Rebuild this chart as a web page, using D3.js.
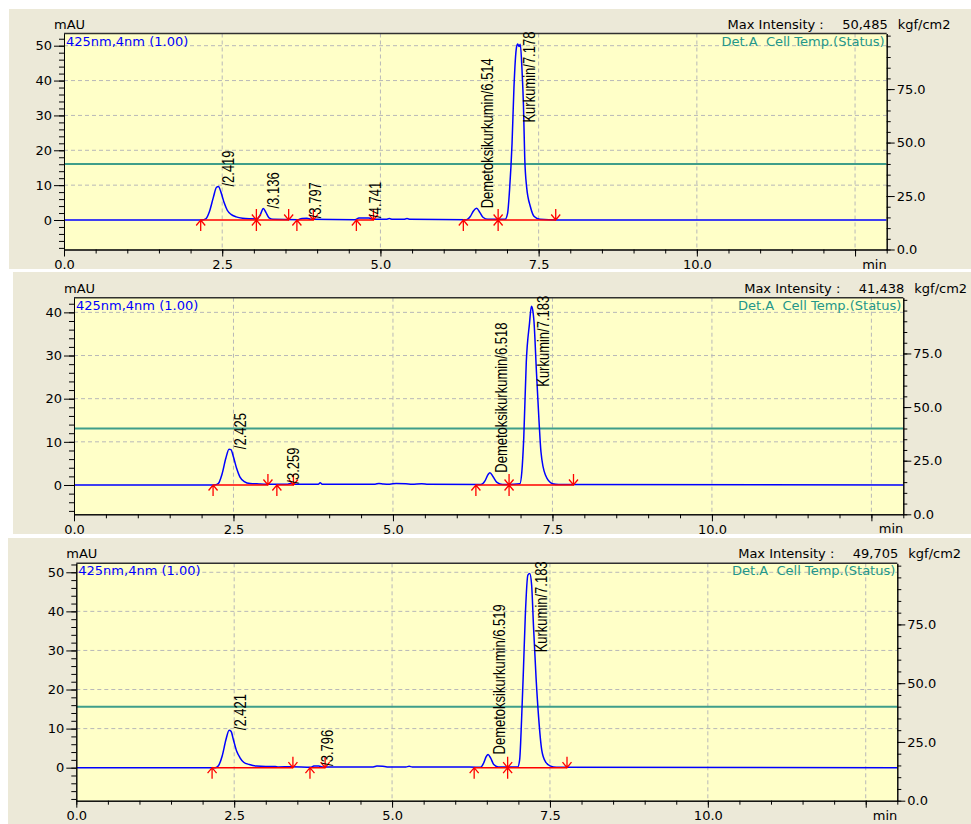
<!DOCTYPE html>
<html>
<head>
<meta charset="utf-8">
<script src="https://cdn.jsdelivr.net/npm/d3@7/dist/d3.min.js"></script>
<style>
  html, body { margin: 0; padding: 0; background: #ffffff; }
  svg { display: block; }
  .axis-text { font-family: "DejaVu Sans", sans-serif; font-size: 13px; fill: #000; }
  .peak-label { font-family: "Liberation Sans", Arial, sans-serif; font-size: 13px; fill: #000; }
</style>
</head>
<body>
<div class="js-chart"></div>
<script>
// The selector of the element into which we put the chromatograms:
const chartSelector = ".js-chart";

// Shared axes
const timeMajorTicks = [0, 2.5, 5, 7.5, 10, 12.5];
const timeTickLabels = ["0.0", "2.5", "5.0", "7.5", "10.0", ""];
const tempTicks = [0, 25, 50, 75];
const cellTemp = 40;
const channelLabel = "425nm,4nm (1.00)";
const tempLabel = "Det.A  Cell Temp.(Status)";

// Run 1: [time (min), absorbance (mAU)]
const run1Trace = [
  [0, 0], [2.18, 0], [2.24, 0.3], [2.30, 2.5], [2.36, 6.5], [2.41, 9.4], [2.44, 9.6],
  [2.48, 8.0], [2.53, 5.0], [2.58, 2.8], [2.64, 1.6], [2.72, 0.9], [2.82, 0.5],
  [2.95, 0.35], [3.05, 0.3], [3.10, 1.4], [3.15, 3.3], [3.19, 2.2], [3.24, 0.6],
  [3.30, 0.2], [3.70, 0.1], [3.76, 0.45], [3.84, 0.5], [3.90, 0.2], [4.60, 0.1],
  [4.66, 0.55], [4.82, 0.6], [4.88, 0.2], [5.09, 0.2], [5.14, 0.4], [5.19, 0.2],
  [5.37, 0.2], [5.42, 0.4], [5.47, 0.2], [6.36, 0.1], [6.42, 1.0], [6.47, 2.6],
  [6.52, 3.35], [6.57, 2.2], [6.62, 0.8], [6.70, 0.2], [6.97, 0.2], [7.01, 2],
  [7.04, 8.5], [7.08, 22], [7.11, 38], [7.15, 49.5], [7.17, 50.5], [7.19, 49.8],
  [7.21, 50.4], [7.24, 42], [7.26, 33], [7.28, 18], [7.31, 9.5], [7.37, 3.8],
  [7.43, 1.0], [7.52, 0.2], [7.80, 0], [13, 0]
];
const run1PeakTimes = [2.419, 3.136, 3.797, 4.741, 6.514, 7.178];
const run1PeakNames = ["", "", "", "", "Demetoksikurkumin", "Kurkumin"];
const run1PeakHeights = [9.6, 3.3, 0.5, 0.6, 3.35, 50.5];
const run1Integration = [[2.16, 3.04], [3.04, 3.55], [3.68, 3.94], [4.62, 4.89], [6.31, 6.86], [6.86, 7.77]];
const run1MaxIntensity = "50,485";
const run1AbsTicks = [0, 10, 20, 30, 40, 50];

// Run 2
const run2Trace = [
  [0, 0], [2.20, 0], [2.26, 0.3], [2.32, 2.5], [2.38, 6.2], [2.43, 8.3], [2.46, 8.2],
  [2.50, 6.5], [2.55, 3.8], [2.60, 1.9], [2.67, 0.8], [2.76, 0.35], [2.90, 0.25],
  [3.02, 0.2], [3.35, 0.2], [3.40, 0.35], [3.45, 0.2], [3.83, 0.2], [3.86, 0.5],
  [3.89, 0.2], [4.72, 0.2], [4.78, 0.35], [4.85, 0.25], [4.95, 0.2], [5.05, 0.35],
  [5.20, 0.3], [5.30, 0.2], [5.45, 0.3], [5.55, 0.2], [6.38, 0.1], [6.44, 0.9],
  [6.49, 2.4], [6.52, 2.85], [6.57, 1.9], [6.63, 0.6], [6.72, 0.1], [6.99, 0.3],
  [7.02, 3], [7.05, 10.8], [7.09, 28.5], [7.14, 37.4], [7.17, 41.4], [7.19, 40.6],
  [7.21, 38], [7.25, 26], [7.29, 14.7], [7.32, 7.7], [7.39, 2.3], [7.50, 0.3],
  [7.60, 0.1], [13, 0]
];
const run2PeakTimes = [2.425, 3.259, 6.518, 7.183];
const run2PeakNames = ["", "", "Demetoksikurkumin", "Kurkumin"];
const run2PeakHeights = [8.3, 0.3, 2.85, 41.4];
const run2Integration = [[2.18, 3.04], [3.18, 3.44], [6.30, 6.82], [6.82, 7.83]];
const run2MaxIntensity = "41,438";
const run2AbsTicks = [0, 10, 20, 30, 40];

// Run 3
const run3Trace = [
  [0, 0], [2.20, 0], [2.25, 0.5], [2.31, 3], [2.37, 7.2], [2.42, 9.6], [2.45, 9.3],
  [2.49, 7.0], [2.54, 4.2], [2.59, 2.6], [2.65, 1.4], [2.74, 0.8], [2.85, 0.4],
  [3.00, 0.3], [3.15, 0.3], [3.20, 0.2], [3.40, 0.25], [3.72, 0.1], [3.76, 0.4],
  [3.84, 0.45], [3.90, 0.15], [4.70, 0.2], [4.76, 0.4], [4.85, 0.35], [4.92, 0.2],
  [5.22, 0.2], [5.27, 0.35], [5.32, 0.2], [6.05, 0.2], [6.40, 0.1], [6.45, 1.2],
  [6.49, 2.8], [6.52, 3.4], [6.56, 2.5], [6.61, 0.8], [6.68, 0.2], [6.99, 0.2],
  [7.02, 2], [7.05, 12], [7.08, 25], [7.11, 39], [7.15, 49.3], [7.18, 49.7],
  [7.21, 46.7], [7.24, 36], [7.28, 23], [7.32, 13], [7.37, 4.5], [7.43, 1.5],
  [7.51, 0.4], [7.60, 0.1], [13, 0]
];
const run3PeakTimes = [2.421, 3.796, 6.519, 7.183];
const run3PeakNames = ["", "", "Demetoksikurkumin", "Kurkumin"];
const run3PeakHeights = [9.6, 0.45, 3.4, 49.7];
const run3Integration = [[2.15, 3.43], [3.70, 3.94], [6.30, 6.83], [6.83, 7.77]];
const run3MaxIntensity = "49,705";
const run3AbsTicks = [0, 10, 20, 30, 40, 50];

const chromatograms = (function () {
  "use strict";

  var publicAPIs = {};
  var svg = null;

  // Where each of the three panels sits on the page.
  var layout = [
    { box: [9, 9, 962, 260], left: 64, top: 33.5, right: 886.7, bottom: 249.5, absDomain: [-8.46, 53.5] },
    { box: [13, 272, 958, 262], left: 74, top: 297.7, right: 903.3, bottom: 514.3, absDomain: [-6.79, 43.4] },
    { box: [8, 538, 963, 286], left: 76.3, top: 563.3, right: 897.3, bottom: 800.7, absDomain: [-8.45, 52.3] }
  ];

  /**
   * Build the svg and draw every run.
   * @param {object} options Should have selector and runs.
   */
  publicAPIs.init = function (options) {
    svg = d3.select(options.selector)
      .append("svg")
      .attr("width", 971)
      .attr("height", 824);

    options.runs.forEach(function (run, i) {
      drawPanel(run, layout[i], i);
    });
  };

  /**
   * Draw one chromatogram panel.
   */
  var drawPanel = function (run, lay, idx) {
    var g = svg.append("g");

    g.append("rect")
      .attr("x", lay.box[0]).attr("y", lay.box[1])
      .attr("width", lay.box[2]).attr("height", lay.box[3])
      .attr("fill", "#ece9d8");

    g.append("rect")
      .attr("x", lay.left).attr("y", lay.top)
      .attr("width", lay.right - lay.left).attr("height", lay.bottom - lay.top)
      .attr("fill", "#ffffc8");

    var x = d3.scaleLinear().domain([0, 13]).range([lay.left, lay.right]);
    var y = d3.scaleLinear().domain(lay.absDomain).range([lay.bottom, lay.top]);
    var yT = d3.scaleLinear().domain([0, 101]).range([lay.bottom, lay.top]);

    // Dashed grid
    var grid = g.append("g")
      .attr("stroke", "#b8b8b8")
      .attr("stroke-dasharray", "4,3")
      .attr("stroke-width", 1);
    grid.selectAll(".vgrid")
      .data(timeMajorTicks.slice(1))
      .enter().append("line")
      .attr("x1", function (d) { return x(d); })
      .attr("x2", function (d) { return x(d); })
      .attr("y1", lay.top).attr("y2", lay.bottom);
    grid.selectAll(".hgrid")
      .data(run.absTicks.slice(1))
      .enter().append("line")
      .attr("y1", function (d) { return y(d); })
      .attr("y2", function (d) { return y(d); })
      .attr("x1", lay.left).attr("x2", lay.right);

    var clipId = "clip" + idx;
    g.append("clipPath").attr("id", clipId)
      .append("rect")
      .attr("x", lay.left).attr("y", lay.top)
      .attr("width", lay.right - lay.left).attr("height", lay.bottom - lay.top);

    var plot = g.append("g").attr("clip-path", "url(#" + clipId + ")");

    // Cell temperature trace
    plot.append("line")
      .attr("x1", lay.left).attr("x2", lay.right)
      .attr("y1", yT(cellTemp)).attr("y2", yT(cellTemp))
      .attr("stroke", "#3f9e8a")
      .attr("stroke-width", 2);

    // Absorbance trace
    var line = d3.line()
      .x(function (d) { return x(d[0]); })
      .y(function (d) { return y(d[1]); })
      .curve(d3.curveMonotoneX);

    plot.append("path")
      .datum(run.trace)
      .attr("d", line)
      .attr("fill", "none")
      .attr("stroke", "#0000ff")
      .attr("stroke-width", 1.5);

    // Integration baselines and their start / end marks
    plot.selectAll(".baseline")
      .data(run.integration)
      .enter().append("line")
      .attr("x1", function (d) { return x(d[0]); })
      .attr("x2", function (d) { return x(d[1]); })
      .attr("y1", y(0)).attr("y2", y(0))
      .attr("stroke", "#ff0000")
      .attr("stroke-width", 1.5);

    var y0 = y(0);
    var marks = [];
    run.integration.forEach(function (seg) {
      marks.push({ t: seg[0], dir: 1 });
      marks.push({ t: seg[1], dir: -1 });
    });
    g.selectAll(".mark")
      .data(marks)
      .enter().append("path")
      .attr("d", function (d) {
        var px = x(d.t);
        return "M" + px + "," + y0 + "L" + px + "," + (y0 + 11 * d.dir) +
          "M" + (px - 4.5) + "," + (y0 + 5.5 * d.dir) + "L" + px + "," + y0 +
          "L" + (px + 4.5) + "," + (y0 + 5.5 * d.dir);
      })
      .attr("fill", "none")
      .attr("stroke", "#ff0000")
      .attr("stroke-width", 1.3);

    // Axes
    var axisLeft = d3.axisLeft(y).tickValues(run.absTicks).tickSize(10).tickSizeOuter(0).tickPadding(2)
      .tickFormat(d3.format("d"));
    var minorAbs = d3.range(Math.ceil(lay.absDomain[0] / 2) * 2, lay.absDomain[1], 2);
    var axisLeftMinor = d3.axisLeft(y).tickValues(minorAbs).tickSize(5).tickSizeOuter(0).tickFormat("");

    var axisBottom = d3.axisBottom(x).tickValues(timeMajorTicks).tickSize(7).tickSizeOuter(0).tickPadding(3)
      .tickFormat(function (d, i) { return timeTickLabels[i]; });
    var axisBottomMinor = d3.axisBottom(x).tickValues(d3.range(0, 13.01, 0.5)).tickSize(4).tickSizeOuter(0).tickFormat("");

    var axisRight = d3.axisRight(yT).tickValues(tempTicks).tickSize(8).tickSizeOuter(0).tickPadding(2)
      .tickFormat(d3.format(".1f"));
    var axisRightMinor = d3.axisRight(yT).tickValues(d3.range(0, 101, 5)).tickSize(4).tickSizeOuter(0).tickFormat("");

    var addAxis = function (axis, tx, ty) {
      var a = g.append("g")
        .attr("transform", "translate(" + tx + "," + ty + ")")
        .call(axis);
      a.selectAll("text").attr("class", "axis-text").attr("font-family", null).attr("font-size", null);
      a.selectAll("line").attr("stroke", "#000");
      a.select(".domain").attr("stroke", "#000");
      return a;
    };
    addAxis(axisLeftMinor, lay.left, 0);
    addAxis(axisLeft, lay.left, 0);
    addAxis(axisBottomMinor, 0, lay.bottom);
    addAxis(axisBottom, 0, lay.bottom);
    addAxis(axisRightMinor, lay.right, 0);
    addAxis(axisRight, lay.right, 0);

    // Top border of the plot
    g.append("line")
      .attr("x1", lay.left).attr("x2", lay.right)
      .attr("y1", lay.top).attr("y2", lay.top)
      .attr("stroke", "#303030")
      .attr("stroke-width", 1.5);

    // Texts around the plot
    g.append("text").attr("class", "axis-text")
      .attr("x", lay.left - 10).attr("y", lay.top - 5)
      .text("mAU");
    g.append("text").attr("class", "axis-text")
      .attr("x", lay.right).attr("y", lay.bottom + 19)
      .attr("text-anchor", "end")
      .text("min");
    g.append("text").attr("class", "axis-text")
      .attr("x", lay.left + 2).attr("y", lay.top + 12)
      .style("fill", "#0000ff")
      .text(channelLabel);
    g.append("text").attr("class", "axis-text")
      .attr("x", lay.right - 2).attr("y", lay.top + 12)
      .attr("text-anchor", "end")
      .style("fill", "#23968a").style("white-space", "pre")
      .text(tempLabel);
    g.append("text").attr("class", "axis-text")
      .attr("x", lay.right - 63).attr("y", lay.top - 5)
      .attr("text-anchor", "end")
      .text("Max Intensity :");
    g.append("text").attr("class", "axis-text")
      .attr("x", lay.right + 1).attr("y", lay.top - 5)
      .attr("text-anchor", "end")
      .text(run.maxIntensity);
    g.append("text").attr("class", "axis-text")
      .attr("x", lay.right + 11).attr("y", lay.top - 5)
      .text("kgf/cm2");

    // Peak labels, rotated, starting at the apex (glyphs a bit wide, like the original)
    run.peakTimes.forEach(function (t, i) {
      var label = g.append("text")
        .attr("class", "peak-label")
        .text(run.peakNames[i] + "/" + t.toFixed(3));
      var len = label.node().getComputedTextLength();
      var py = y(run.peakHeights[i]);
      if (py - len < lay.top - 2) {
        py = lay.top - 2 + len;
      }
      label.attr("transform", "translate(" + (x(t) + 17) + "," + py + ") rotate(-90) scale(1,1.2)");
    });
  };

  return publicAPIs;
})();

if (d3 && document.querySelectorAll(chartSelector).length) {
  chromatograms.init({
    selector: chartSelector,
    runs: [
      { trace: run1Trace, peakTimes: run1PeakTimes, peakNames: run1PeakNames, peakHeights: run1PeakHeights,
        integration: run1Integration, maxIntensity: run1MaxIntensity, absTicks: run1AbsTicks },
      { trace: run2Trace, peakTimes: run2PeakTimes, peakNames: run2PeakNames, peakHeights: run2PeakHeights,
        integration: run2Integration, maxIntensity: run2MaxIntensity, absTicks: run2AbsTicks },
      { trace: run3Trace, peakTimes: run3PeakTimes, peakNames: run3PeakNames, peakHeights: run3PeakHeights,
        integration: run3Integration, maxIntensity: run3MaxIntensity, absTicks: run3AbsTicks }
    ]
  });
}
</script>
</body>
</html>
